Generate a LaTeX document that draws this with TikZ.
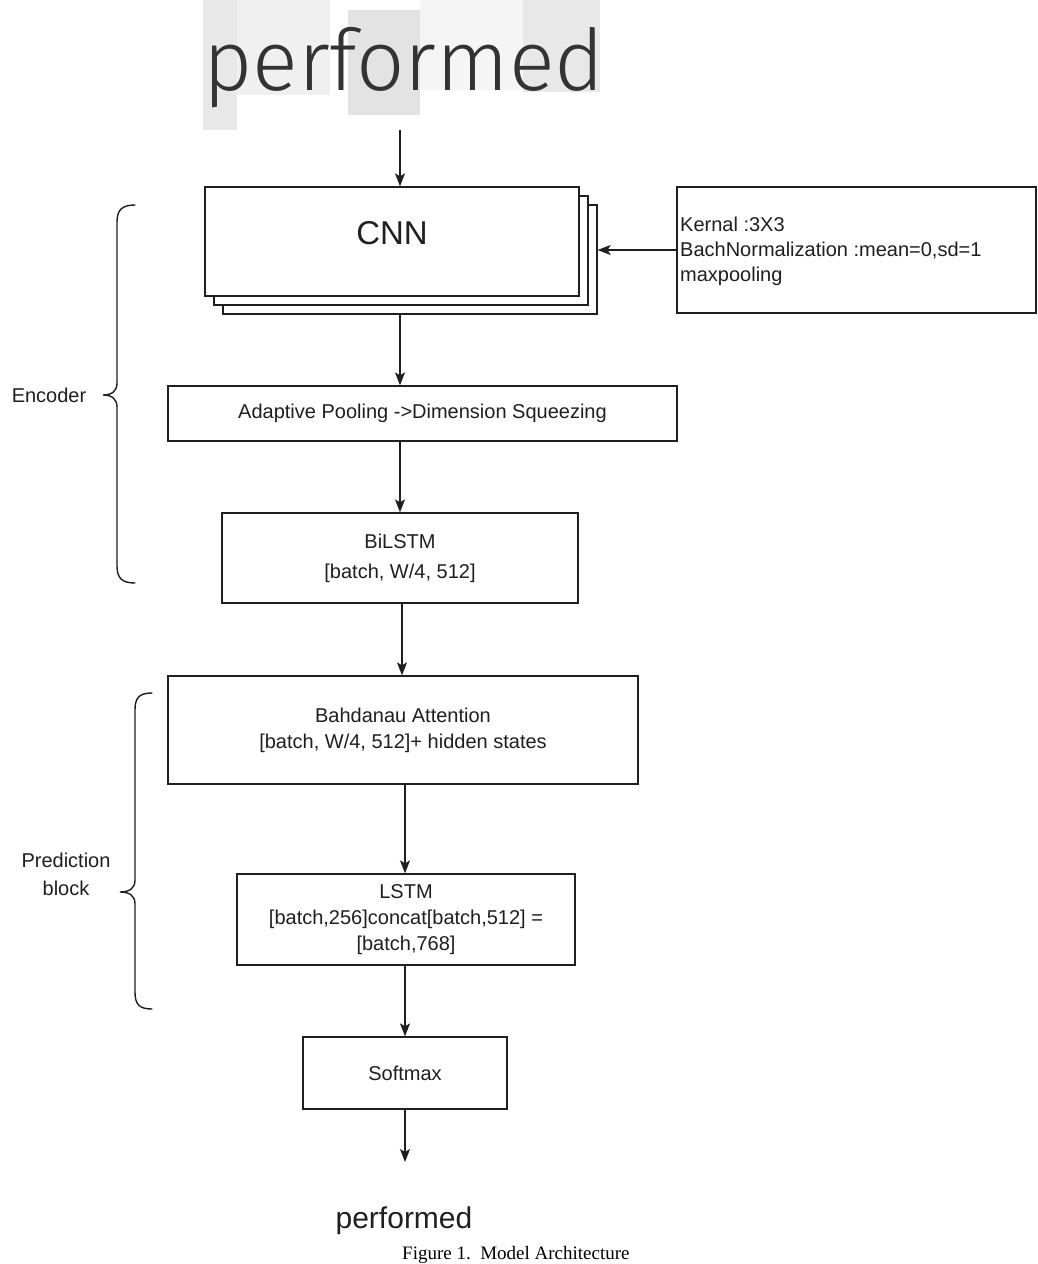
\documentclass[tikz,border=0pt]{standalone}
\usepackage{fontspec}
\setmainfont{Liberation Sans}
\newfontfamily\capfont{Liberation Serif}
\newfontfamily\handfont{Fira Sans Light}
\usetikzlibrary{arrows.meta}

\begin{document}
\begin{tikzpicture}[x=1pt,y=-1pt,
  ink/.style={draw=black!88,line width=1.3pt},
  box/.style={ink,fill=white,inner sep=0pt,align=center,
    font=\fontsize{20}{26}\selectfont,text=black!88},
  arr/.style={ink,-{Stealth[length=13pt,width=10pt,inset=3pt]}},
  brace/.style={ink,line width=1.4pt,line cap=round},
  lbl/.style={font=\fontsize{20}{28}\selectfont,text=black!88,align=center}]

  % page frame
  \useasboundingbox[fill=white] (0,0) rectangle (1038,1264);

  % scanned input word
  \fill[black!9] (203,0) rectangle (237,130);
  \fill[black!6] (237,0) rectangle (330,95);
  \fill[black!11] (348,10) rectangle (420,115);
  \fill[black!4] (420,0) rectangle (523,90);
  \fill[black!9] (523,0) rectangle (600,92);
  \node[anchor=base west,inner sep=0pt,text=black!80,
    font=\handfont\fontsize{85}{85}\selectfont] (word) at (203,90) {performed};
  \coordinate (spine) at (400,0);
  \coordinate (wordout) at (400,130);

  % CNN stack
  \node[box,minimum width=374pt,minimum height=109pt] (cnn3) at (410,259.5) {};
  \node[box,minimum width=374pt,minimum height=109pt] (cnn2) at (401,250.5) {};
  \node[box,minimum width=374pt,minimum height=109pt] (cnn) at (392,241.5) {};
  \node[font=\fontsize{33}{33}\selectfont,text=black!88] (cnntxt)
    at ([yshift=8pt]cnn.center) {CNN};

  % layer parameters
  \node[box,minimum width=359pt,minimum height=126pt] (params) at (856.5,250) {};
  \node[anchor=west,align=left,inner sep=0pt,text=black!88,
    font=\fontsize{20}{25}\selectfont] (paramtxt) at (680,251)
    {Kernal :3X3\\BachNormalization :mean=0,sd=1\\maxpooling};

  % pipeline blocks
  \node[box,minimum width=509pt,minimum height=55pt] (pool) at (422.5,413.5)
    {Adaptive Pooling ->Dimension Squeezing};
  \node[box,minimum width=356pt,minimum height=90pt,
    font=\fontsize{20}{30}\selectfont] (bilstm) at (400,558)
    {BiLSTM\\{}[batch, W/4, 512]};
  \node[box,minimum width=470pt,minimum height=108pt] (attn) at (403,730)
    {Bahdanau Attention\\{}[batch, W/4, 512]+ hidden states};
  \node[box,minimum width=338pt,minimum height=91pt] (lstm) at (406,919.5)
    {LSTM\\{}[batch,256]concat[batch,512] =\\{}[batch,768]};
  \node[box,minimum width=204pt,minimum height=72pt] (softmax) at (405,1073)
    {Softmax};

  % output word
  \coordinate (outtop) at (405,1162);
  \node[anchor=base,inner sep=0pt,text=black!88,
    font=\fontsize{30}{30}\selectfont] (outword) at (404,1228) {performed};

  % connectors
  \coordinate (lower) at (405,0);
  \draw[arr] (wordout) -- (cnn.north -| spine);
  \draw[arr] (params.west) -- (params.west -| cnn3.east);
  \draw[arr] (cnn3.south -| spine) -- (pool.north -| spine);
  \draw[arr] (pool.south -| spine) -- (bilstm.north -| spine);
  \draw[arr] ([xshift=2pt]bilstm.south) -- ([xshift=-1pt]attn.north);
  \draw[arr] (attn.south -| lower) -- (lstm.north -| lower);
  \draw[arr] (lstm.south -| lower) -- (softmax.north -| lower);
  \draw[arr] (softmax.south -| lower) -- (outtop);

  % encoder brace
  \draw[brace] (135,205) .. controls (122,205) and (117,210) .. (117,222)
    -- (117,383) .. controls (117,391) and (112,395) .. (103,395)
    .. controls (112,395) and (117,399) .. (117,407)
    -- (117,566) .. controls (117,578) and (122,583) .. (135,583);
  \node[lbl] (enc) at (49,395) {Encoder};

  % prediction brace
  \draw[brace] (152,693) .. controls (139,693) and (135,698) .. (135,710)
    -- (135,880) .. controls (135,888) and (130,892) .. (120,892)
    .. controls (130,892) and (135,896) .. (135,904)
    -- (135,992) .. controls (135,1004) and (139,1009) .. (152,1009);
  \node[lbl] (pred) at (66,874) {Prediction\\block};

  % caption
  \node[anchor=base west,inner sep=0pt,font=\capfont\fontsize{19}{19}\selectfont]
    (caption) at (402,1259) {Figure 1.\ \ Model Architecture};
\end{tikzpicture}
\end{document}
